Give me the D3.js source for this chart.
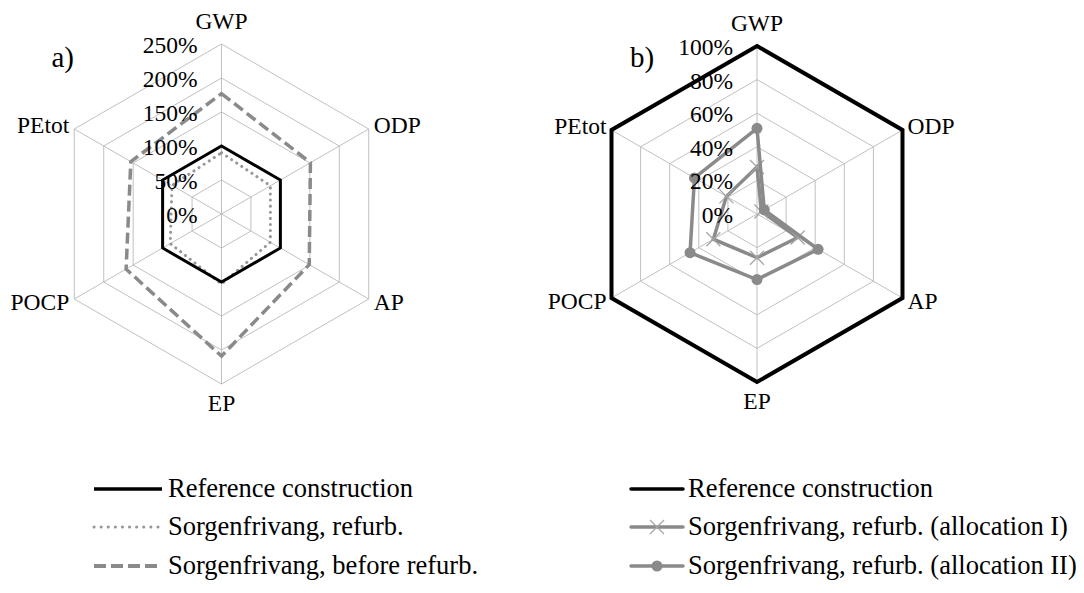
<!DOCTYPE html>
<html>
<head>
    <meta charset="utf-8">
    <title>Radar</title>
    <script src="https://cdn.jsdelivr.net/npm/d3@7"></script>
    <style>
        body { margin: 0; background: #fff; }
    </style>
</head>
<body>
    <svg width="1084" height="593" id="mainsvg"></svg>
    <script>
        // data
        const axes = ['GWP', 'ODP', 'AP', 'EP', 'POCP', 'PEtot'];
        const ticksA = [0, 50, 100, 150, 200, 250];
        const refA = [100, 100, 100, 100, 100, 100];
        const refurbA = [90, 83, 83, 103, 87, 84];
        const beforeA = [177, 151, 149, 209, 162, 154];
        const ticksB = [0, 20, 40, 60, 80, 100];
        const refB = [100, 100, 100, 100, 100, 100];
        const allocI = [28, 3, 28, 26, 30, 21];
        const allocII = [51, 5, 42, 39, 46, 43];
        const legendA = ['Reference construction', 'Sorgenfrivang, refurb.', 'Sorgenfrivang, before refurb.'];
        const legendB = ['Reference construction', 'Sorgenfrivang, refurb. (allocation I)', 'Sorgenfrivang, refurb. (allocation II)'];

        const svg = d3.select('svg');
        const serif = '"Liberation Serif", "Times New Roman", serif';
        const gridColor = '#c0c0c0';
        const gray = '#8a8a8a';

        const angle = d3.scaleLinear().domain([0, axes.length]).range([0, 2 * Math.PI]);

        const label = (sel, x, y, size, txt, anchor) => sel.append('text')
            .attr('x', x).attr('y', y).attr('font-size', size)
            .style('font-family', serif)
            .attr('text-anchor', anchor || 'start').attr('fill', '#000').text(txt);

        function drawRadar(cx, cy, R, ticks, title, series) {
            const g = svg.append('g').attr('transform', `translate(${cx},${cy})`);
            const r = d3.scaleLinear().domain([0, d3.max(ticks)]).range([0, R]);
            const pt = (i, v) => [Math.sin(angle(i)) * r(v), -Math.cos(angle(i)) * r(v)];

            const ring = d3.lineRadial().angle((d, i) => angle(i)).radius(d => r(d)).curve(d3.curveLinearClosed);

            // rings
            ticks.slice(1).forEach(t => {
                g.append('path').attr('d', ring(axes.map(() => t)))
                    .attr('fill', 'none').attr('stroke', gridColor).attr('stroke-width', 1);
            });
            // spokes
            axes.forEach((a, i) => {
                const p = pt(i, d3.max(ticks));
                g.append('line').attr('x1', 0).attr('y1', 0).attr('x2', p[0]).attr('y2', p[1])
                    .attr('stroke', gridColor).attr('stroke-width', 1);
            });

            // series
            series.forEach(s => {
                g.append('path').attr('d', ring(s.values))
                    .attr('fill', 'none').attr('stroke', s.color).attr('stroke-width', s.width)
                    .attr('stroke-dasharray', s.dash || null)
                    .attr('stroke-linecap', s.cap || 'butt')
                    .attr('stroke-linejoin', 'miter');
                if (s.marker === 'circle') {
                    s.values.forEach((v, i) => {
                        const p = pt(i, v);
                        g.append('circle').attr('cx', p[0]).attr('cy', p[1]).attr('r', 5.5).attr('fill', s.color);
                    });
                }
                if (s.marker === 'x') {
                    s.values.forEach((v, i) => {
                        const p = pt(i, v);
                        const k = 7;
                        g.append('path').attr('d', `M${p[0] - k},${p[1] - k}L${p[0] + k},${p[1] + k}M${p[0] - k},${p[1] + k}L${p[0] + k},${p[1] - k}`)
                            .attr('stroke', '#a6a6a6').attr('stroke-width', 1.3);
                    });
                }
            });

            // tick labels
            ticks.forEach(t => label(g, -24, -r(t) + 9, 23.5, t + '%', 'end'));

            // axis labels
            axes.forEach((a, i) => {
                const p = pt(i, d3.max(ticks));
                let x = p[0], y = p[1], anchor = 'middle';
                if (i === 0) { y -= 15; }
                else if (i === 3) { y += 27; }
                else if (i === 1 || i === 2) { x += 5; anchor = 'start'; y += (i === 1 ? 4 : 11); }
                else { x -= 5; anchor = 'end'; y += (i === 5 ? 4 : 11); }
                label(g, x, y, 23.5, a, anchor);
            });

            label(g, title.x, title.y, 29, title.label);
        }

        drawRadar(221.5, 214, 170, ticksA, { label: 'a)', x: -170, y: -147 }, [
            { values: beforeA, color: gray, width: 3.5, dash: '11,5' },
            { values: refurbA, color: '#969696', width: 3, dash: '0.1,6', cap: 'round' },
            { values: refA, color: '#000', width: 3 }
        ]);

        drawRadar(757, 214, 168, ticksB, { label: 'b)', x: -127, y: -147 }, [
            { values: refB, color: '#000', width: 4 },
            { values: allocI, color: gray, width: 3.5, marker: 'x' },
            { values: allocII, color: gray, width: 3.5, marker: 'circle' }
        ]);

        // legends
        const rowY = [489, 527, 566];
        const legA = svg.append('g');
        const styleA = [
            { color: '#000', width: 3.5 },
            { color: '#969696', width: 3, dash: '0.1,7', cap: 'round' },
            { color: gray, width: 4, dash: '12,5' }
        ];
        legendA.forEach((name, i) => {
            legA.append('line').attr('x1', 94).attr('x2', 162).attr('y1', rowY[i]).attr('y2', rowY[i])
                .attr('stroke', styleA[i].color).attr('stroke-width', styleA[i].width)
                .attr('stroke-dasharray', styleA[i].dash || null).attr('stroke-linecap', styleA[i].cap || 'butt');
            label(legA, 168, rowY[i] + 8, 26.5, name);
        });

        const legB = svg.append('g');
        legendB.forEach((name, i) => {
            const col = i === 0 ? '#000' : gray;
            legB.append('line').attr('x1', 631).attr('x2', 683).attr('y1', rowY[i]).attr('y2', rowY[i])
                .attr('stroke', col).attr('stroke-width', 3.5).attr('stroke-linecap', 'round');
            if (i === 1) {
                const k = 7, mx = 657, my = rowY[i];
                legB.append('path').attr('d', `M${mx - k},${my - k}L${mx + k},${my + k}M${mx - k},${my + k}L${mx + k},${my - k}`)
                    .attr('stroke', '#a6a6a6').attr('stroke-width', 1.3);
            }
            if (i === 2) {
                legB.append('circle').attr('cx', 657).attr('cy', rowY[i]).attr('r', 5.5).attr('fill', gray);
            }
            label(legB, 688, rowY[i] + 8, 26.5, name);
        });
    </script>
</body>
</html>
